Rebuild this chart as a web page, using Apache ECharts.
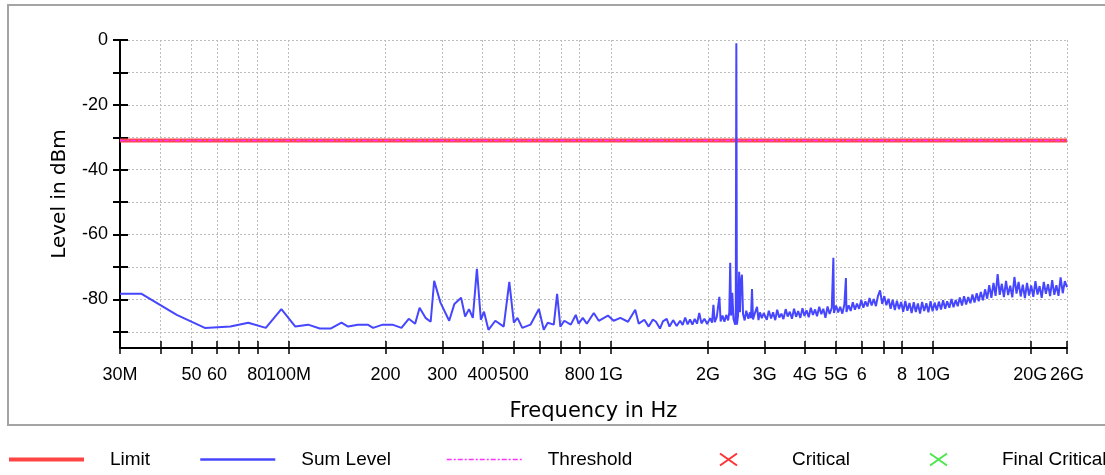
<!DOCTYPE html>
<html>
<head>
<meta charset="utf-8">
<title>Level vs Frequency</title>
<script src="https://cdn.jsdelivr.net/npm/echarts@6/dist/echarts.min.js"></script>
<style>
  html, body { margin: 0; padding: 0; background: #fff; }
  #chart { width: 1105px; height: 475px; }
</style>
</head>
<body>
<div id="chart"></div>
<script>
// frequency in MHz, level in dBm
const sumLevelLow = [
  [30, -78.3], [35, -78.3], [45, -84.8], [55, -88.8], [66, -88.4], [75, -87.2], [85, -88.8],
  [95, -83.0], [105, -88.4], [115, -87.8], [125, -89.0], [135, -89.0], [146, -87.2], [153, -88.4],
  [164, -87.8], [176, -87.8], [183, -88.8], [196, -87.8], [210, -87.8], [224, -88.8], [236, -86.0],
  [247, -87.5], [255, -82.6], [266, -85.7], [276, -86.9], [283, -74.3], [296, -81.0], [315, -86.6],
  [327, -81.4], [343, -79.5], [353, -85.3], [363, -83.0], [373, -85.7], [384, -70.6], [395, -86.3],
  [404, -83.8], [417, -89.4], [438, -86.6], [465, -88.4], [484, -74.6], [500, -87.2], [513, -85.7],
  [531, -88.8], [563, -87.8], [598, -83.0], [619, -89.4], [637, -87.2], [665, -87.8], [681, -78.3],
  [697, -88.4], [717, -86.6], [751, -87.8], [778, -84.8], [794, -87.5], [818, -85.7], [842, -87.5],
  [885, -84.2], [917, -86.6], [979, -85.0]
];

const sumLevelMid = [
  [1020, -86.6], [1070, -85.7], [1130, -86.9], [1190, -83.2], [1220, -87.5], [1270, -86.3],
  [1310, -88.4], [1350, -86.2], [1380, -86.9], [1420, -89.0], [1450, -86.8], [1490, -86.0],
  [1520, -88.4], [1560, -86.4], [1600, -88.2], [1640, -86.6], [1670, -87.9], [1700, -85.6],
  [1730, -87.7], [1760, -86.2], [1790, -87.8], [1820, -86.0], [1850, -87.5], [1880, -84.2],
  [1910, -87.4], [1950, -86.0], [1990, -87.6], [2030, -85.8], [2060, -87.2], [2080, -81.7],
  [2100, -87.0], [2130, -85.5], [2170, -79.2], [2190, -86.8], [2220, -85.0], [2250, -86.9],
  [2280, -84.8], [2310, -86.5], [2330, -84.0], [2345, -68.7], [2360, -85.0], [2380, -78.0],
  [2400, -86.0], [2430, -87.8], [2440, -84.0], [2450, -1.0], [2460, -87.8], [2480, -85.0],
  [2500, -71.5], [2515, -84.0], [2530, -74.6], [2550, -72.4], [2570, -84.5], [2600, -86.5],
  [2630, -83.5], [2650, -83.8], [2670, -86.0], [2700, -84.0], [2720, -85.8], [2740, -76.8],
  [2760, -86.2], [2790, -84.6], [2840, -82.3], [2870, -86.4], [2900, -84.0], [2940, -85.8],
  [2980, -84.2]
];

const sumLevelHigh = [
  [3000, -84.2], [3045, -86.3], [3090, -83.5], [3140, -85.9], [3185, -84.0], [3235, -86.4],
  [3280, -83.2], [3330, -85.6], [3380, -84.4], [3430, -86.1], [3485, -83.0], [3535, -85.3],
  [3590, -83.8], [3645, -86.0], [3700, -82.9], [3755, -85.4], [3810, -83.6], [3870, -85.7],
  [3930, -82.7], [3985, -85.1], [4045, -83.4], [4110, -85.5], [4170, -82.6], [4235, -84.8],
  [4300, -83.1], [4360, -85.2], [4430, -82.3], [4495, -84.6], [4560, -82.9], [4630, -85.7],
  [4700, -82.2], [4770, -84.5], [4845, -82.6], [4900, -67.2], [4920, -84.2], [4995, -81.9],
  [5070, -84.0], [5145, -82.3], [5225, -84.4], [5300, -81.6], [5360, -73.4], [5380, -83.9],
  [5465, -81.8], [5545, -83.6], [5630, -80.9], [5715, -83.2], [5800, -81.3], [5890, -82.9],
  [5980, -80.2], [6070, -82.6], [6160, -80.6], [6250, -82.2], [6345, -79.6], [6440, -81.9],
  [6540, -79.9], [6640, -82.1], [6740, -78.9], [6840, -77.2], [6945, -81.4], [7050, -79.0],
  [7155, -81.8], [7265, -79.8], [7375, -82.9], [7485, -80.1], [7600, -83.3], [7715, -80.4],
  [7830, -83.0], [7950, -80.8], [8070, -83.8], [8190, -80.5], [8315, -83.5], [8440, -81.1],
  [8570, -84.2], [8700, -80.9], [8830, -83.9], [8960, -81.3], [9100, -84.4], [9235, -80.8],
  [9375, -83.6], [9520, -81.2], [9660, -84.0], [9810, -80.6], [9955, -83.7], [10100, -81.0],
  [10260, -83.4], [10410, -80.7], [10570, -83.1], [10730, -80.3], [10890, -82.9], [11050, -80.6],
  [11220, -82.6], [11390, -79.9], [11560, -82.4], [11740, -80.2], [11910, -82.1], [12090, -79.4],
  [12280, -81.9], [12460, -79.0], [12650, -81.6], [12840, -79.3], [13040, -81.2], [13230, -78.5],
  [13430, -81.0], [13640, -78.1], [13840, -80.6], [14050, -77.7], [14260, -80.3], [14480, -76.9],
  [14700, -79.8], [14920, -75.6], [15150, -79.5], [15380, -74.9], [15610, -78.9], [15840, -72.2],
  [16080, -78.6], [16320, -75.2], [16570, -79.3], [16820, -74.3], [17070, -78.7], [17330, -75.8],
  [17590, -79.4], [17860, -73.1], [18130, -78.2], [18400, -74.6], [18680, -79.1], [18960, -75.5],
  [19250, -79.6], [19540, -74.9], [19830, -78.8], [20130, -75.7], [20440, -79.2], [20750, -74.4],
  [21060, -78.5], [21380, -75.9], [21700, -79.5], [22030, -74.6], [22360, -78.3], [22700, -75.3],
  [23040, -79.0], [23390, -74.1], [23750, -78.6], [24100, -75.6], [24470, -78.9], [24840, -73.2],
  [25220, -78.1], [25600, -74.4], [26000, -76.2]
];

const limitLine = [[30, -31], [26000, -31]];
const thresholdLine = [[30, -31], [26000, -31]];
const criticalPoints = [];
const finalCriticalPoints = [];

const xTickValues = [30, 40, 50, 60, 70, 80, 100, 200, 300, 400, 500, 600, 700, 800, 1000,
  2000, 3000, 4000, 5000, 6000, 7000, 8000, 10000, 20000, 26000];
const xLabelValues = [30, 50, 60, 80, 100, 200, 300, 400, 500, 800, 1000,
  2000, 3000, 4000, 5000, 6000, 8000, 10000, 20000, 26000];
const xLabelTexts = ['30M', '50', '60', '80', '100M', '200', '300', '400', '500', '800', '1G',
  '2G', '3G', '4G', '5G', '6', '8', '10G', '20G', '26G'];
const yTickValues = [0, -10, -20, -30, -40, -50, -60, -70, -80, -90];
const yLabelValues = [0, -20, -40, -60, -80];

const sumLevel = sumLevelLow.concat(sumLevelMid, sumLevelHigh);

const limitColor = '#ff4444';
const sumColor = '#4646ff';
const thresholdColor = '#ff33ff';
const thresholdDash = [5, 2, 2, 2];

const labelFont = { fontFamily: '"Liberation Sans", Arial, sans-serif', fontSize: 18, color: '#000' };
const legendFont = { fontFamily: '"Liberation Sans", Arial, sans-serif', fontSize: 19, color: '#000', padding: [0, 0, 0, 21] };
const gridLine = { show: true, lineStyle: { color: '#bdbdbd', type: [2, 2], width: 1 } };

const chart = echarts.init(document.getElementById('chart'));

const xBase = {
  type: 'log', logBase: 10, min: 30, max: 26000, position: 'bottom', offset: 0
};
const yBase = {
  type: 'value', min: -95, max: 0, position: 'left', offset: 0
};

// one legend per entry so each one sits where the original has it
function legendAt(left, item) {
  return {
    left: left, top: 450, padding: 0, itemWidth: 75, itemHeight: 14,
    textStyle: legendFont, selectedMode: false,
    data: [item]
  };
}
const hideDot = { opacity: 0 };
const crossIcon = 'path://M0,0M75,14M29,1L46,13M46,1L29,13';

chart.setOption({
  animation: false,
  grid: { left: 120, right: 38, top: 40, bottom: 127, outerBoundsMode: 'none' },
  graphic: [{
    type: 'rect', silent: true, z: -10,
    shape: { x: 8, y: 5, width: 1200, height: 420 },
    style: { fill: 'none', stroke: '#a4a4a4', lineWidth: 2 }
  }],
  legend: [
    legendAt(7, { name: 'Limit', itemStyle: hideDot, lineStyle: { color: limitColor, width: 4 } }),
    legendAt(199, { name: 'Sum Level', itemStyle: hideDot, lineStyle: { color: sumColor, width: 2.5 } }),
    legendAt(446, { name: 'Threshold', itemStyle: hideDot, lineStyle: { color: thresholdColor, width: 1.5, type: thresholdDash } }),
    legendAt(690, { name: 'Critical', icon: crossIcon,
      itemStyle: { color: 'rgba(0,0,0,0)', borderColor: '#ff0000', borderWidth: 2 } }),
    legendAt(900, { name: 'Final Critical', icon: crossIcon,
      itemStyle: { color: 'rgba(0,0,0,0)', borderColor: '#22e022', borderWidth: 2 } })
  ],
  xAxis: [
    Object.assign({}, xBase, {
      name: 'Frequency in Hz', nameLocation: 'middle', nameGap: 53,
      nameTextStyle: { fontFamily: '"DejaVu Sans", sans-serif', fontSize: 21, color: '#000' },
      axisLine: { show: true, onZero: false, lineStyle: { color: '#000', width: 2 } },
      axisTick: { show: true, inside: false, length: 6, customValues: xTickValues, lineStyle: { color: '#000', width: 1.5 } },
      axisLabel: {
        show: true, margin: 18, customValues: xLabelValues, ...labelFont,
        formatter: v => xLabelTexts[xLabelValues.indexOf(Math.round(v))] ?? ''
      },
      splitLine: gridLine
    }),
    Object.assign({}, xBase, {
      axisLine: { show: false, onZero: false },
      axisTick: { show: true, inside: true, length: 7, customValues: xTickValues, lineStyle: { color: '#000', width: 1.5 } },
      axisLabel: { show: false },
      splitLine: { show: false }
    })
  ],
  yAxis: [
    Object.assign({}, yBase, {
      name: 'Level in dBm', nameLocation: 'middle', nameGap: 50, nameRotate: 90,
      nameTextStyle: { fontFamily: '"DejaVu Sans", sans-serif', fontSize: 20, color: '#000' },
      axisLine: { show: true, onZero: false, lineStyle: { color: '#000', width: 2 } },
      axisTick: { show: true, inside: false, length: 7, customValues: yTickValues, lineStyle: { color: '#000', width: 2 } },
      axisLabel: { show: true, margin: 12, customValues: yLabelValues, ...labelFont },
      splitLine: gridLine
    }),
    Object.assign({}, yBase, {
      axisLine: { show: false, onZero: false },
      axisTick: { show: true, inside: true, length: 8, customValues: yTickValues, lineStyle: { color: '#000', width: 2 } },
      axisLabel: { show: false },
      splitLine: { show: false }
    })
  ],
  series: [
    {
      name: 'Limit', type: 'line', data: limitLine, symbol: 'none',
      color: limitColor, lineStyle: { color: limitColor, width: 4 }, z: 2
    },
    {
      name: 'Threshold', type: 'line', data: thresholdLine, symbol: 'none',
      color: thresholdColor, lineStyle: { color: thresholdColor, width: 1.5, type: thresholdDash }, z: 3
    },
    {
      name: 'Sum Level', type: 'line', data: sumLevel, symbol: 'none',
      color: sumColor, lineStyle: { color: sumColor, width: 2 }, z: 4
    },
    { name: 'Critical', type: 'scatter', data: criticalPoints, color: '#ff0000' },
    { name: 'Final Critical', type: 'scatter', data: finalCriticalPoints, color: '#22e022' }
  ]
});
</script>
</body>
</html>
